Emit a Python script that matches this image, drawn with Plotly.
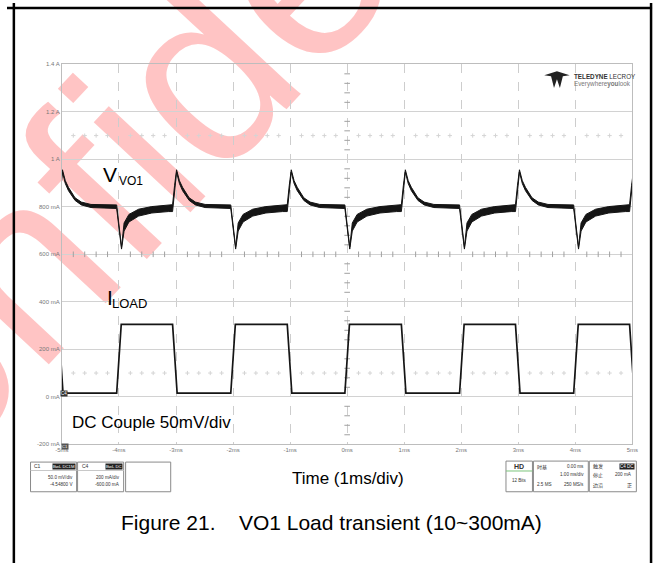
import plotly.graph_objects as go

W, H = 660, 566
FONT = "Liberation Sans"
CJK = "Noto Sans CJK SC"

# ---------------- waveform data (time in ms, screen scale in A) ----------------
# I_LOAD: 10 mA <-> 300 mA load steps
iload_low = 0.015
iload_high = 0.305
load_rise_ms = [-4.04, -2.04, -0.04, 1.97, 3.97]
load_fall_ms = [-5.06, -3.06, -1.05, 0.95, 2.95, 4.95]
edge_ms = 0.08

# V_VO1 noise envelope after a load step-up (undershoot), offsets from the step
dip_dt = [0.00, 0.085, 0.13, 0.215, 0.385, 0.615, 0.905]
dip_upper = [0.808, 0.630, 0.732, 0.768, 0.790, 0.801, 0.809]
dip_lower = [0.793, 0.622, 0.698, 0.736, 0.761, 0.774, 0.780]

# V_VO1 noise envelope after a load step-down (overshoot)
peak_dt = [0.00, 0.035, 0.07, 0.12, 0.175, 0.29, 0.40, 0.57, 0.90]
peak_upper = [0.809, 0.890, 0.956, 0.910, 0.882, 0.838, 0.820, 0.810, 0.807]
peak_lower = [0.780, 0.874, 0.946, 0.898, 0.868, 0.827, 0.808, 0.797, 0.794]

# axis labels of the scope screen
y_ticks = [-0.2, 0.0, 0.2, 0.4, 0.6, 0.8, 1.0, 1.2, 1.4]
y_labels = ["-200 mA", "0 mA", "200 mA", "400 mA", "600 mA", "800 mA", "1 A", "1.2 A", "1.4 A"]
x_ticks = [-5, -4, -3, -2, -1, 0, 1, 2, 3, 4, 5]
x_labels = ["-5ms", "-4ms", "-3ms", "-2ms", "-1ms", "0ms", "1ms", "2ms", "3ms", "4ms", "5ms"]

# ---------------- build traces from the event lists ----------------
events = sorted([(t, "fall") for t in load_fall_ms] + [(t, "rise") for t in load_rise_ms])

i_t, i_v = [], []
v_t, v_up, v_lo = [], [], []
for t, kind in events:
    if kind == "rise":
        i_t += [t, t + edge_ms]
        i_v += [iload_low, iload_high]
        dts, ups, los = dip_dt, dip_upper, dip_lower
    else:
        i_t += [t, t + edge_ms]
        i_v += [iload_high, iload_low]
        dts, ups, los = peak_dt, peak_upper, peak_lower
    for d, u, l in zip(dts, ups, los):
        v_t.append(t + d)
        v_up.append(u)
        v_lo.append(l)
i_t.append(6.0)
i_v.append(i_v[-1])

x0, x1, y0, y1 = 56, 638, 62, 446

fig = go.Figure()

# grid decorations: dotted cross rows and centre-axis tick marks
minor_x = [k * 0.2 - 5 for k in range(51) if k % 5]
fig.add_trace(go.Scatter(x=minor_x * 2, y=[1.1] * len(minor_x) + [0.1] * len(minor_x),
                         mode="markers", hoverinfo="skip",
                         marker=dict(symbol="cross-thin-open", size=3, color="#d4d4d4",
                                     line=dict(color="#d4d4d4", width=1))))
fig.add_trace(go.Scatter(x=minor_x, y=[0.6] * len(minor_x), mode="markers", hoverinfo="skip",
                         marker=dict(symbol="line-ns-open", size=4, color="#a0a0a0",
                                     line=dict(color="#a0a0a0", width=1))))
minor_y = [k * 0.04 - 0.2 for k in range(41) if k % 5]
fig.add_trace(go.Scatter(x=[0] * len(minor_y), y=minor_y, mode="markers", hoverinfo="skip",
                         marker=dict(symbol="line-ew-open", size=4, color="#a0a0a0",
                                     line=dict(color="#a0a0a0", width=1))))

# V_VO1 band
fig.add_trace(go.Scatter(x=v_t + v_t[::-1], y=v_up + v_lo[::-1], mode="lines",
                         fill="toself", fillcolor="#151515",
                         line=dict(color="#151515", width=1), hoverinfo="skip"))
# I_LOAD
fig.add_trace(go.Scatter(x=i_t, y=i_v, mode="lines", line=dict(color="#151515", width=1.7),
                         hoverinfo="skip"))

# trigger markers
fig.add_trace(go.Scatter(x=[5.09], y=[0.2], mode="markers", cliponaxis=False, hoverinfo="skip",
                         marker=dict(symbol="triangle-left", size=5, color="#222")))
fig.add_trace(go.Scatter(x=[0], y=[-0.215], mode="markers", cliponaxis=False, hoverinfo="skip",
                         marker=dict(symbol="triangle-up", size=4, color="#222")))

fig.update_layout(
    width=W, height=H, margin=dict(l=0, r=0, t=0, b=0),
    paper_bgcolor="white", plot_bgcolor="rgba(0,0,0,0)", showlegend=False,
    xaxis=dict(domain=[x0 / W, x1 / W], range=[-5, 5], tickvals=x_ticks, ticktext=x_labels,
               showgrid=True, gridcolor="#cdcdcd", griddash="dash", gridwidth=1,
               zeroline=False, showline=True, linecolor="#bdbdbd", linewidth=1, mirror=True,
               ticks="", tickfont=dict(family=FONT, size=6, color="#777")),
    yaxis=dict(domain=[1 - y1 / H, 1 - y0 / H], range=[-0.2, 1.4], tickvals=y_ticks, ticktext=y_labels,
               showgrid=True, gridcolor="#d2d2d2", gridwidth=1,
               zeroline=False, showline=True, linecolor="#bdbdbd", linewidth=1, mirror=True,
               ticks="", tickfont=dict(family=FONT, size=6, color="#777")),
)


def px(x):
    return x / W


def py(y):
    return 1 - y / H


anns = []


def ann(x, y, text, size, color="#000", xanchor="left", yanchor="middle", family=FONT, **kw):
    anns.append(dict(x=px(x), y=py(y), xref="paper", yref="paper", text=text, showarrow=False,
                     xanchor=xanchor, yanchor=yanchor, font=dict(family=family, size=size, color=color), **kw))


# signal labels
ann(96, 173, "V", 21)
ann(112, 180, "VO1", 12)
ann(100, 298, "I", 21)
ann(105, 304, "LOAD", 13)
ann(64, 424, "DC Couple 50mV/div", 17)
ann(348, 481, "Time (1ms/div)", 17, xanchor="center")
ann(331, 525, "Figure 21.\u00a0\u00a0\u00a0\u00a0VO1 Load transient (10~300mA)", 21, xanchor="center")

# channel tags on the grid
ann(58.5, 395, "C4", 4.5, color="white", xanchor="center", bgcolor="#333", borderpad=0)
ann(59, 448, "C1", 4, color="white", xanchor="center", bgcolor="#555", borderpad=0)

# logo
ann(576, 74, "<b>TELEDYNE</b> LECROY", 6.3, color="#333")
ann(576, 82, "Everywhere<b>you</b>look", 6.3, color="#777")

shapes = []

# "Confidential" watermark beneath the grid and waveforms
wm_cx, wm_cy = 185, 50
shapes.append(dict(type="rect", xref="paper", yref="paper", layer="below",
                   x0=px(wm_cx - 10), x1=px(wm_cx + 10), y0=py(wm_cy + 10), y1=py(wm_cy - 10),
                   line=dict(width=0), fillcolor="rgba(0,0,0,0)",
                   label=dict(text="Confidential", textangle=-47, textposition="middle center",
                              font=dict(family=FONT, size=250, color="#ffc4c4"))))


def rect(xa, ya, xb, yb, color="#8a8a8a"):
    shapes.append(dict(type="rect", xref="paper", yref="paper", x0=px(xa), x1=px(xb), y0=py(yb), y1=py(ya),
                       line=dict(color=color, width=1)))


def hline(xa, xb, y, color="#bbb", width=1):
    shapes.append(dict(type="line", xref="paper", yref="paper", x0=px(xa), x1=px(xb), y0=py(y), y1=py(y),
                       line=dict(color=color, width=width)))


def vline(x, ya, yb, color="#000", width=1):
    shapes.append(dict(type="line", xref="paper", yref="paper", x0=px(x), x1=px(x), y0=py(ya), y1=py(yb),
                       line=dict(color=color, width=width)))


# page frame
vline(7, 0, H, width=2.5)
vline(657, 0, H, width=2.5)
hline(0, 658, 5, color="#000", width=2.5)

# logo mark
shapes.append(dict(type="path", xref="paper", yref="paper",
                   path="M {} {} L {} {} L {} {} L {} {} L {} {} L {} {} L {} {} L {} {} Z".format(
                       px(548), py(73), px(561), py(69), px(574), py(73), px(567), py(74),
                       px(564), py(86), px(561), py(77), px(558), py(86), px(555), py(74)),
                   fillcolor="#222", line=dict(width=0)))

# channel descriptor boxes
for bx, ch, tag, l1, l2 in [(24, "C1", "BwL DC1M", "50.0 mV/div", "-4.54800 V"),
                            (72, "C4", "BwL DC", "200 mA/div", "-600.00 mA")]:
    rect(bx, 464, bx + 47, 494)
    hline(bx, bx + 47, 472.5, color="#c8c8c8")
    ann(bx + 2, 468, ch, 5, color="#333")
    ann(bx + 46, 468, tag, 4.3, color="white", xanchor="right", bgcolor="#222", borderpad=0)
    ann(bx + 45, 480, l1, 4.6, color="#333", xanchor="right")
    ann(bx + 45, 487, l2, 4.6, color="#333", xanchor="right")
rect(121, 464, 167, 494)

# acquisition boxes
rect(509, 463, 536, 494)
hline(509, 536, 473, color="#7cc47c")
ann(522.5, 468, "<b>HD</b>", 7, color="#333", xanchor="center")
ann(522.5, 483, "12 Bits", 4.5, color="#333", xanchor="center")

rect(537, 463, 593, 494)
ann(539, 468, "时基", 5, color="#333", family=CJK)
ann(591, 468, "0.00 ms", 4.6, color="#333", xanchor="right")
ann(591, 477, "1.00 ms/div", 4.6, color="#333", xanchor="right")
ann(539, 487, "2.5 MS", 4.6, color="#333")
ann(591, 487, "250 MS/s", 4.6, color="#333", xanchor="right")

rect(594, 463, 642, 494)
ann(596, 468, "触发", 5, color="#333", family=CJK)
ann(641, 468, "C4 DC", 4.5, color="white", xanchor="right", bgcolor="#222", borderpad=0)
ann(596, 477, "停止", 5, color="#333", family=CJK)
ann(640, 477, "200 mA", 4.6, color="#333", xanchor="right")
ann(596, 487, "边沿", 5, color="#333", family=CJK)
ann(640, 487, "正", 5, color="#333", xanchor="right", family=CJK)

fig.update_layout(annotations=anns, shapes=shapes)
fig.write_html("out.html")
